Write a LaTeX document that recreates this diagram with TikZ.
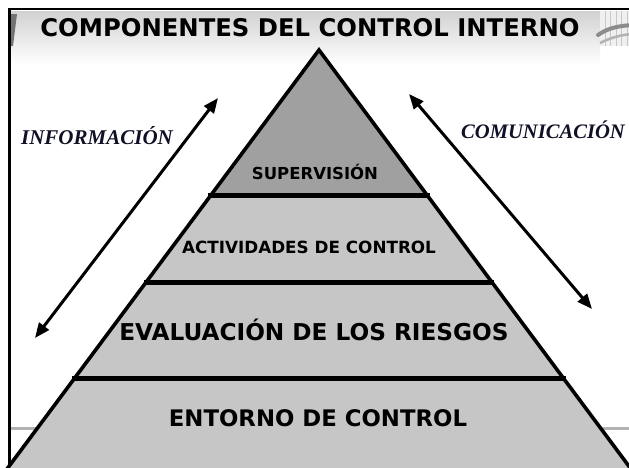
\documentclass[tikz,border=0pt]{standalone}
\usepackage{fontspec}
\setmainfont{Liberation Serif}
\newfontfamily\comicfont{DejaVu Sans}
\usetikzlibrary{arrows.meta}
\definecolor{toplayer}{HTML}{A0A0A0}
\definecolor{layer}{HTML}{C6C6C6}
\definecolor{navy}{HTML}{101026}
\tikzset{
  layertext/.style={text=black, inner sep=0pt, anchor=center},
  sidetext/.style={text=navy, inner sep=0pt},
  flowarrow/.style={line width=3pt, {Triangle[length=15pt,width=12pt]}-{Triangle[length=15pt,width=12pt]}},
  edge/.style={line width=3.6pt, line join=miter},
  divider/.style={line width=5pt}
}
\begin{document}
\begin{tikzpicture}[x=1pt,y=-1pt]
\useasboundingbox (0,0) rectangle (629,467);
\clip (0,0) rectangle (629,467);
\fill[white] (0,0) rectangle (629,467);
% title band
\shade[top color=black!18, bottom color=white] (10,11) rectangle (600,64);
% top-right grid
\begin{scope}
\clip (600,11) rectangle (629,46);
\fill[black!6] (600,11) rectangle (629,46);
\draw[black!22, line width=0.5pt, step=5.5] (600,11) grid (629,46);
\end{scope}
\draw[black!45, line width=4pt, line cap=round] (598,35) .. controls (608,28) and (618,26) .. (632,25);
\draw[black!30, line width=2.5pt] (600,43) .. controls (610,38) and (620,35) .. (632,34);
% top-left swoosh
\fill[black!55] (10,14) -- (17,14) -- (15,30) -- (13,46) -- (10,46) -- cycle;
% background gray line
\draw[black!30, line width=3pt] (10,428) -- (629,428);
% pyramid layers
\coordinate (apex) at (319,50);
\fill[toplayer] (apex) -- (427,195) -- (211,195) -- cycle;
\fill[layer] (211,195) -- (427,195) -- (492,282) -- (146,282) -- cycle;
\fill[layer] (146,282) -- (492,282) -- (563,378) -- (75,378) -- cycle;
\fill[layer] (75,378) -- (563,378) -- (634,473) -- (4,473) -- cycle;
\draw[edge] (4,473) -- (apex) -- (634,473);
\draw[divider] (208,195) -- (430,195);
\draw[divider] (144,282) -- (494,282);
\draw[divider] (72,378) -- (566,378);
% frame
\draw[line width=2.5pt] (9.5,467) -- (9.5,9) -- (629,9);
% arrows
\coordinate (infoA) at (35,338);
\coordinate (infoB) at (218,98);
\coordinate (comA) at (409,94);
\coordinate (comB) at (592,309);
\draw[flowarrow] (infoA) -- (infoB);
\draw[flowarrow] (comA) -- (comB);
% texts
\node[layertext, font=\comicfont\bfseries\fontsize{24.3}{28}\selectfont] (title) at (310,28) {COMPONENTES DEL CONTROL INTERNO};
\node[sidetext, font=\bfseries\itshape\fontsize{21}{24}\selectfont] (info) at (97,136) {INFORMACIÓN};
\node[sidetext, font=\bfseries\itshape\fontsize{20.6}{24}\selectfont] (com) at (543,130) {COMUNICACIÓN};
\node[layertext, font=\comicfont\bfseries\fontsize{16.5}{19}\selectfont] (sup) at (315,172) {SUPERVISIÓN};
\node[layertext, font=\comicfont\bfseries\fontsize{16.8}{19}\selectfont] (act) at (309,247) {ACTIVIDADES DE CONTROL};
\node[layertext, font=\comicfont\bfseries\fontsize{23.2}{27}\selectfont] (eval) at (314,330) {EVALUACIÓN DE LOS RIESGOS};
\node[layertext, font=\comicfont\bfseries\fontsize{22.8}{26}\selectfont] (ent) at (318,418) {ENTORNO DE CONTROL};
\end{tikzpicture}
\end{document}
